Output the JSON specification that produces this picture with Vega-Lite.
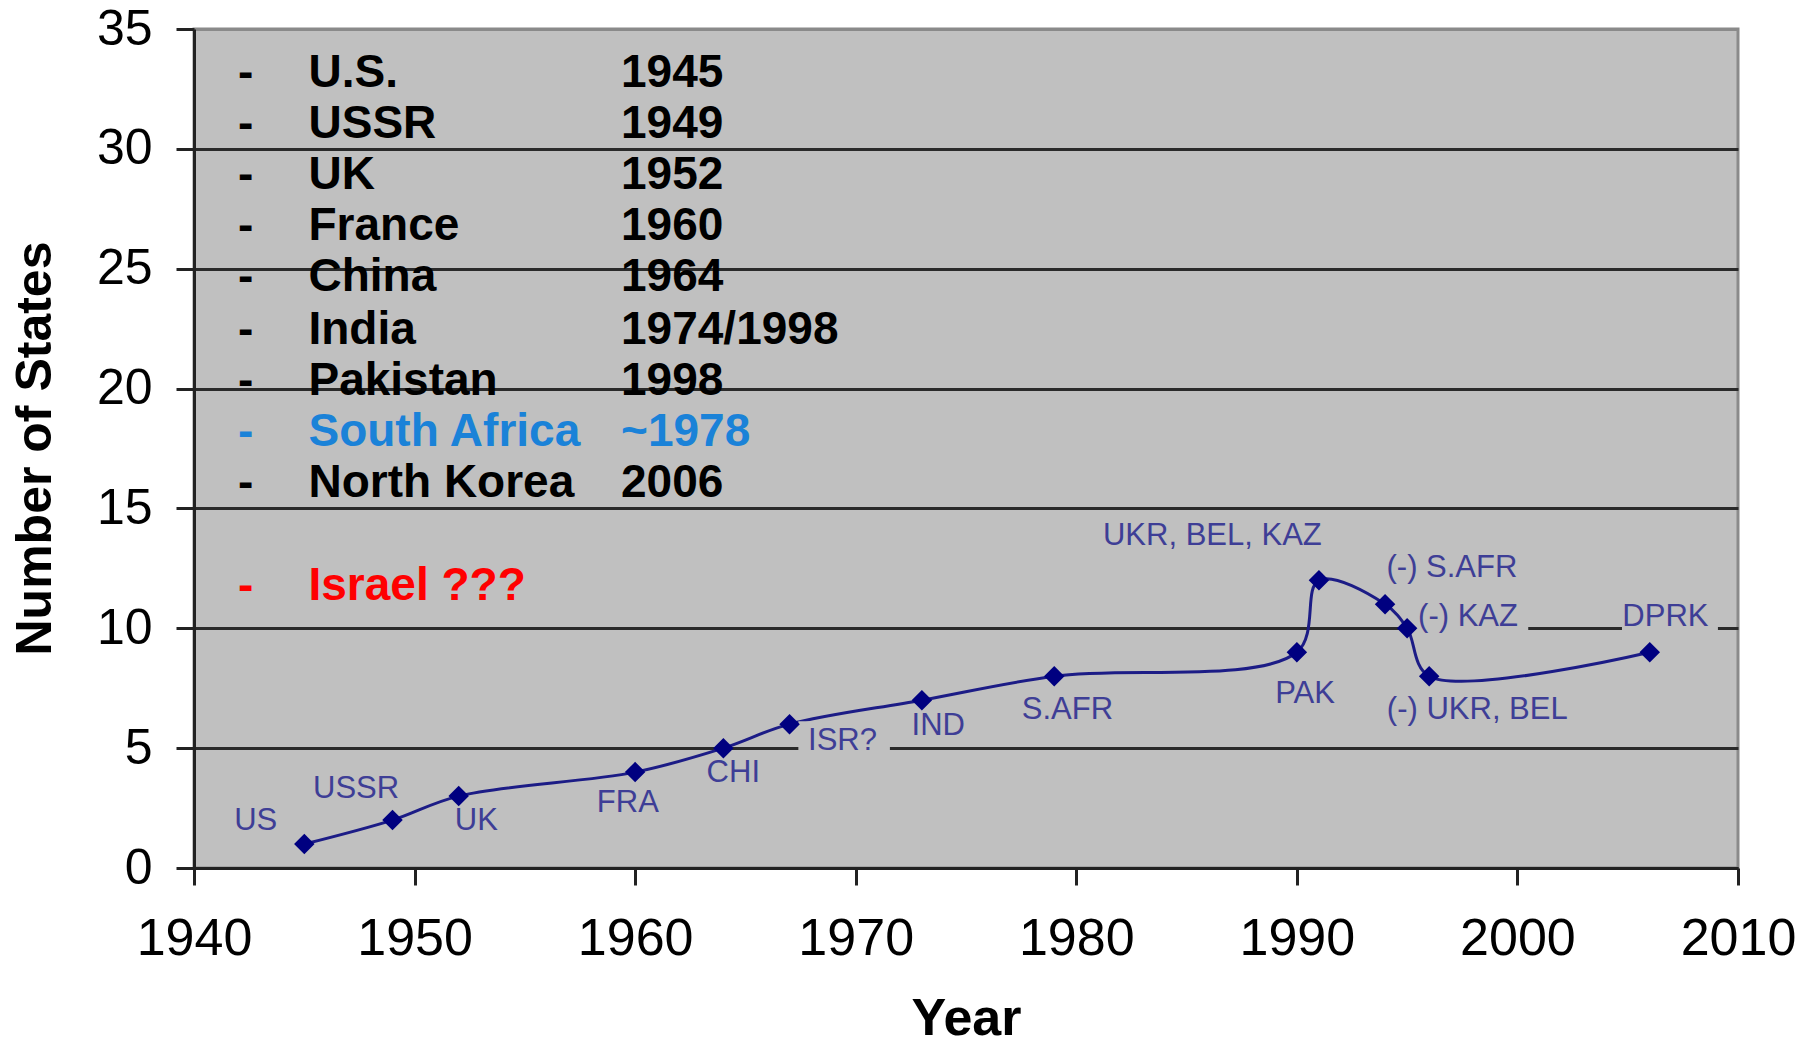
{
  "$schema": "https://vega.github.io/schema/vega-lite/v6.json",
  "width": 1544,
  "height": 839,
  "autosize": {"type": "none"},
  "padding": {"left": 194, "top": 29, "right": 76, "bottom": 178},
  "background": "#ffffff",
  "config": {
    "view": {"fill": "#c0c0c0", "stroke": "#8a8a8a", "strokeWidth": 3},
    "axis": {"labelFont": "Liberation Sans", "titleFont": "Liberation Sans", "labelColor": "#000", "titleColor": "#000"}
  },
  "datasets": {
    "states": [
      {"year": 1945, "n": 1},
      {"year": 1949, "n": 2},
      {"year": 1952, "n": 3},
      {"year": 1960, "n": 4},
      {"year": 1964, "n": 5},
      {"year": 1967, "n": 6},
      {"year": 1973, "n": 7},
      {"year": 1979, "n": 8},
      {"year": 1990, "n": 9},
      {"year": 1991, "n": 12},
      {"year": 1994, "n": 11},
      {"year": 1995, "n": 10},
      {"year": 1996, "n": 8},
      {"year": 2006, "n": 9}
    ],
    "labels": [
      {"year": 1942.8, "n": 1.98, "text": "US"},
      {"year": 1947.35, "n": 3.28, "text": "USSR"},
      {"year": 1952.8, "n": 1.98, "text": "UK"},
      {"year": 1959.67, "n": 2.7, "text": "FRA"},
      {"year": 1964.45, "n": 3.96, "text": "CHI"},
      {"year": 1969.4, "n": 5.3, "text": "ISR?"},
      {"year": 1973.74, "n": 5.94, "text": "IND"},
      {"year": 1979.6, "n": 6.61, "text": "S.AFR"},
      {"year": 1990.37, "n": 7.24, "text": "PAK"},
      {"year": 1986.17, "n": 13.85, "text": "UKR, BEL, KAZ"},
      {"year": 1997.03, "n": 12.5, "text": "(-) S.AFR"},
      {"year": 1997.76, "n": 10.45, "text": "(-) KAZ"},
      {"year": 1998.18, "n": 6.61, "text": "(-) UKR, BEL"},
      {"year": 2006.71, "n": 10.45, "text": "DPRK"}
    ],
    "boxes": [
      {"year": 1967.4, "year2": 1971.55, "n": 4.45, "n2": 6.12},
      {"year": 1995.4, "year2": 2000.49, "n": 9.5, "n2": 11.1},
      {"year": 2004.74, "year2": 2009.09, "n": 9.5, "n2": 11.1}
    ],
    "legend": [
      {"name": "U.S.", "when": "1945", "n": 33.16, "status": "confirmed"},
      {"name": "USSR", "when": "1949", "n": 31.03, "status": "confirmed"},
      {"name": "UK", "when": "1952", "n": 28.91, "status": "confirmed"},
      {"name": "France", "when": "1960", "n": 26.79, "status": "confirmed"},
      {"name": "China", "when": "1964", "n": 24.66, "status": "confirmed"},
      {"name": "India", "when": "1974/1998", "n": 22.44, "status": "confirmed"},
      {"name": "Pakistan", "when": "1998", "n": 20.32, "status": "confirmed"},
      {"name": "South Africa", "when": "~1978", "n": 18.19, "status": "dismantled"},
      {"name": "North Korea", "when": "2006", "n": 16.07, "status": "confirmed"},
      {"name": "Israel ???", "when": "", "n": 11.78, "status": "suspected"}
    ]
  },
  "layer": [
    {
      "data": {"name": "states"},
      "mark": {"type": "line", "interpolate": "catmull-rom", "color": "#1c1c86", "strokeWidth": 3},
      "encoding": {
        "x": {
          "field": "year", "type": "quantitative",
          "scale": {"domain": [1940, 2010], "nice": false, "zero": false},
          "axis": {
            "title": "Year", "values": [1940, 1950, 1960, 1970, 1980, 1990, 2000, 2010], "format": "d",
            "grid": false, "domainColor": "#222", "domainWidth": 3, "tickColor": "#222", "tickWidth": 3, "tickSize": 17,
            "labelFontSize": 52, "labelPadding": 28, "labelFlush": false,
            "titleFontSize": 52, "titleFontWeight": "bold", "titleBaseline": "alphabetic", "titleY": 166, "titleX": 772, "titleAlign": "center"
          }
        },
        "y": {
          "field": "n", "type": "quantitative",
          "scale": {"domain": [0, 35], "nice": false},
          "axis": {
            "title": "Number of States", "values": [0, 5, 10, 15, 20, 25, 30, 35],
            "grid": true, "gridColor": {"condition": {"test": "datum.value === 35", "value": "#8a8a8a"}, "value": "#2a2a2a"}, "gridWidth": 3,
            "domainColor": "#222", "domainWidth": 3, "tickColor": "#222", "tickWidth": 3, "tickSize": 18,
            "labelFontSize": 50, "labelPadding": 24,
            "titleFontSize": 50, "titleFontWeight": "bold", "titleAngle": -90, "titleBaseline": "middle", "titleX": -159, "titleY": 419, "titleAlign": "center"
          }
        }
      }
    },
    {
      "data": {"name": "boxes"},
      "mark": {"type": "rect", "fill": "#c0c0c0", "stroke": null},
      "encoding": {
        "x": {"field": "year", "type": "quantitative"},
        "x2": {"field": "year2"},
        "y": {"field": "n", "type": "quantitative"},
        "y2": {"field": "n2"}
      }
    },
    {
      "data": {"name": "states"},
      "mark": {"type": "point", "shape": "diamond", "filled": true, "color": "#000080", "size": 420, "opacity": 1},
      "encoding": {
        "x": {"field": "year", "type": "quantitative"},
        "y": {"field": "n", "type": "quantitative"}
      }
    },
    {
      "data": {"name": "labels"},
      "mark": {"type": "text", "font": "Liberation Sans", "fontSize": 31, "color": "#3e3e96", "align": "center", "baseline": "middle"},
      "encoding": {
        "x": {"field": "year", "type": "quantitative"},
        "y": {"field": "n", "type": "quantitative"},
        "text": {"field": "text"}
      }
    },
    {
      "data": {"name": "legend"},
      "mark": {"type": "text", "font": "Liberation Sans", "fontWeight": "bold", "fontSize": 46, "align": "left", "baseline": "middle"},
      "encoding": {
        "x": {"datum": 1942.0, "type": "quantitative"},
        "y": {"field": "n", "type": "quantitative"},
        "text": {"value": "-"},
        "color": {"field": "status", "type": "nominal", "legend": null, "scale": {"domain": ["confirmed", "dismantled", "suspected"], "range": ["#000000", "#1a82d8", "#ff0000"]}}
      }
    },
    {
      "data": {"name": "legend"},
      "mark": {"type": "text", "font": "Liberation Sans", "fontWeight": "bold", "fontSize": 46, "align": "left", "baseline": "middle"},
      "encoding": {
        "x": {"datum": 1945.19, "type": "quantitative"},
        "y": {"field": "n", "type": "quantitative"},
        "text": {"field": "name"},
        "color": {"field": "status", "type": "nominal", "legend": null}
      }
    },
    {
      "data": {"name": "legend"},
      "mark": {"type": "text", "font": "Liberation Sans", "fontWeight": "bold", "fontSize": 46, "align": "left", "baseline": "middle"},
      "encoding": {
        "x": {"datum": 1959.36, "type": "quantitative"},
        "y": {"field": "n", "type": "quantitative"},
        "text": {"field": "when"},
        "color": {"field": "status", "type": "nominal", "legend": null}
      }
    }
  ]
}
